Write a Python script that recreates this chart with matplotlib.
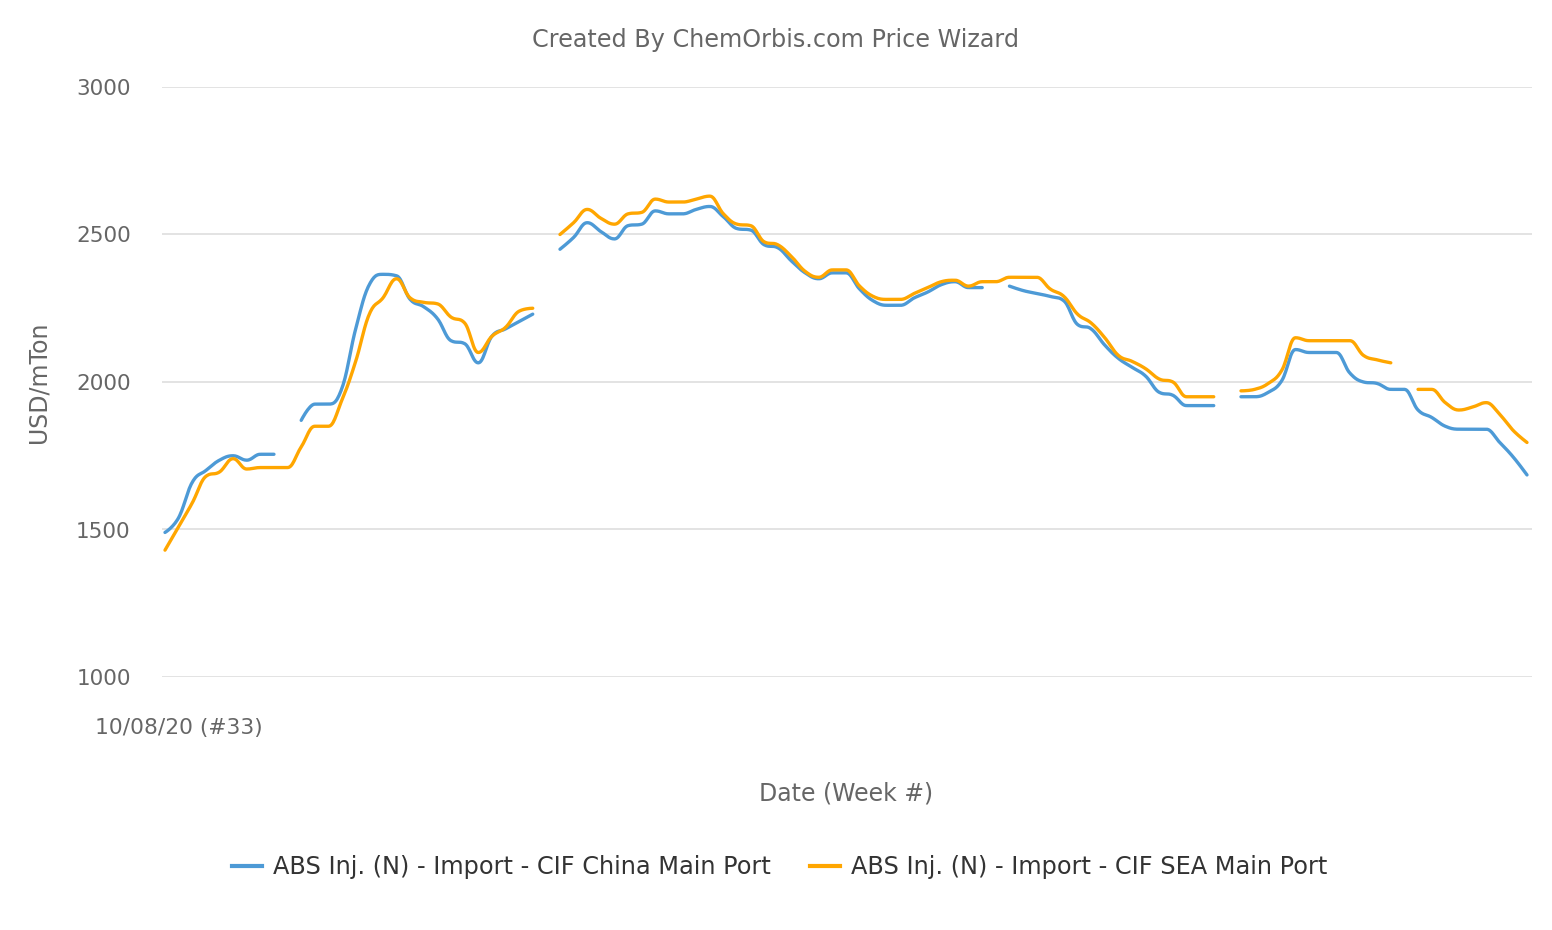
import numpy as np
import matplotlib
matplotlib.use('Agg')
import matplotlib.pyplot as plt
from matplotlib.lines import Line2D

nan = np.nan

# weekly points starting 10/08/20 (#33)
first_label = '10/08/20 (#33)'

china = [1490, 1540, 1660, 1700, 1735, 1750, 1735, 1755, 1755, nan,
         1870, 1925, 1925, 1980, 2180, 2330, 2365, 2360, 2280, 2255,
         2215, 2140, 2130, 2065, 2155, 2180, 2205, 2230, nan, 2450,
         2490, 2540, 2510, 2485, 2530, 2535, 2580, 2570, 2570, 2585,
         2595, 2560, 2520, 2515, 2465, 2455, 2410, 2370, 2350, 2370,
         2370, 2315, 2275, 2260, 2260, 2285, 2305, 2330, 2340, 2320,
         2320, nan, 2325, 2310, 2300, 2290, 2275, 2195, 2180, 2125,
         2080, 2050, 2020, 1965, 1955, 1920, 1920, 1920, nan, 1950,
         1950, 1965, 2005, 2110, 2100, 2100, 2100, 2030, 2000, 1995,
         1975, 1975, 1905, 1880, 1850, 1840, 1840, 1840, 1795, 1745,
         1685]

sea = [1430, 1510, 1590, 1680, 1695, 1740, 1705, 1710, 1710, 1710,
       1780, 1850, 1850, 1940, 2070, 2230, 2285, 2350, 2285, 2270,
       2265, 2220, 2200, 2100, 2155, 2185, 2240, 2250, nan, 2500,
       2540, 2585, 2555, 2535, 2570, 2575, 2620, 2610, 2610, 2620,
       2630, 2570, 2535, 2530, 2475, 2465, 2425, 2375, 2355, 2380,
       2380, 2325, 2290, 2280, 2280, 2300, 2320, 2340, 2345, 2325,
       2340, 2340, 2355, 2355, 2355, 2315, 2290, 2230, 2200, 2150,
       2090, 2070, 2045, 2010, 2000, 1950, 1950, 1950, nan, 1970,
       1975, 1995, 2040, 2150, 2140, 2140, 2140, 2140, 2090, 2075,
       2065, nan, 1975, 1975, 1930, 1905, 1915, 1930, 1890, 1835,
       1795]

series_names = ['ABS Inj. (N) - Import - CIF China Main Port',
                'ABS Inj. (N) - Import - CIF SEA Main Port']
colors = ['#4d9ad6', '#ffa600']


def spline(xs, ys, smoothing=1.5, steps=16):
    # Highcharts-style spline: bezier with control points through each point
    xs = np.asarray(xs, float)
    ys = np.asarray(ys, float)
    ok = ~np.isnan(ys)
    out_x, out_y = [], []
    i = 0
    n = len(ys)
    while i < n:
        if not ok[i]:
            i += 1
            continue
        j = i
        while j < n and ok[j]:
            j += 1
        sx, sy = xs[i:j], ys[i:j]
        m = len(sx)
        lc = [None] * m
        rc = [None] * m
        den = smoothing + 1
        for k in range(1, m - 1):
            lx = (smoothing * sx[k] + sx[k - 1]) / den
            ly = (smoothing * sy[k] + sy[k - 1]) / den
            rx = (smoothing * sx[k] + sx[k + 1]) / den
            ry = (smoothing * sy[k] + sy[k + 1]) / den
            corr = (ry - ly) * (rx - sx[k]) / (rx - lx) + sy[k] - ry
            ly += corr
            ry += corr
            if ly > sy[k - 1] and ly > sy[k]:
                ly = max(sy[k - 1], sy[k]); ry = 2 * sy[k] - ly
            elif ly < sy[k - 1] and ly < sy[k]:
                ly = min(sy[k - 1], sy[k]); ry = 2 * sy[k] - ly
            if ry > sy[k + 1] and ry > sy[k]:
                ry = max(sy[k + 1], sy[k]); ly = 2 * sy[k] - ry
            elif ry < sy[k + 1] and ry < sy[k]:
                ry = min(sy[k + 1], sy[k]); ly = 2 * sy[k] - ry
            lc[k] = (lx, ly)
            rc[k] = (rx, ry)
        t = np.linspace(0, 1, steps)
        out_x.append(sx[0]); out_y.append(sy[0])
        for k in range(1, m):
            p0 = (sx[k - 1], sy[k - 1])
            p3 = (sx[k], sy[k])
            p1 = rc[k - 1] if rc[k - 1] is not None else p0
            p2 = lc[k] if lc[k] is not None else p3
            bx = ((1 - t) ** 3 * p0[0] + 3 * (1 - t) ** 2 * t * p1[0]
                  + 3 * (1 - t) * t ** 2 * p2[0] + t ** 3 * p3[0])
            by = ((1 - t) ** 3 * p0[1] + 3 * (1 - t) ** 2 * t * p1[1]
                  + 3 * (1 - t) * t ** 2 * p2[1] + t ** 3 * p3[1])
            out_x.extend(bx[1:]); out_y.extend(by[1:])
        out_x.append(nan); out_y.append(nan)
        i = j
    return np.array(out_x), np.array(out_y)


fig = plt.figure(figsize=(15.52, 9.3), dpi=100)
ax = fig.add_axes([162 / 1552, 1 - 677 / 930, 1370 / 1552, 590 / 930])

x = np.arange(len(china))
for vals, col in zip([china, sea], colors):
    sx, sy = spline(x, vals)
    ax.plot(sx, sy, color=col, lw=2.4, solid_capstyle='round', zorder=3)

step = 1362 / 100
ax.set_xlim(-3 / step, 100 + 5 / step)
ax.set_ylim(1000, 3000)
ax.set_yticks([1000, 1500, 2000, 2500, 3000])
ax.grid(axis='y', color='#e1e1e1', lw=1.3)
ax.set_axisbelow(True)
for s in ax.spines.values():
    s.set_visible(False)
ax.tick_params(axis='y', length=0, labelsize=15.5, labelcolor='#666666', pad=22.5)
ax.set_xticks([])

ax.text(1.05, -0.087, first_label, transform=ax.get_xaxis_transform(),
        ha='center', va='center', fontsize=15.7, color='#666666')

ax.set_ylabel('USD/mTon', fontsize=17, color='#666666', labelpad=18)
fig.text(846 / 1552, 1 - 793 / 930, 'Date (Week #)', ha='center', va='center',
         fontsize=17, color='#666666')
fig.text(775 / 1552, 1 - 40 / 930, 'Created By ChemOrbis.com Price Wizard',
         ha='center', va='center', fontsize=17.2, color='#666666')

handles = [Line2D([], [], color=c, lw=3) for c in colors]
fig.legend(handles, series_names, loc='center', bbox_to_anchor=(779.5 / 1552, 1 - 867 / 930),
           ncol=2, frameon=False, fontsize=17.3, labelcolor='#333333',
           handlelength=1.25, handletextpad=0.46, columnspacing=1.62)

plt.savefig('out.png', dpi=100)
